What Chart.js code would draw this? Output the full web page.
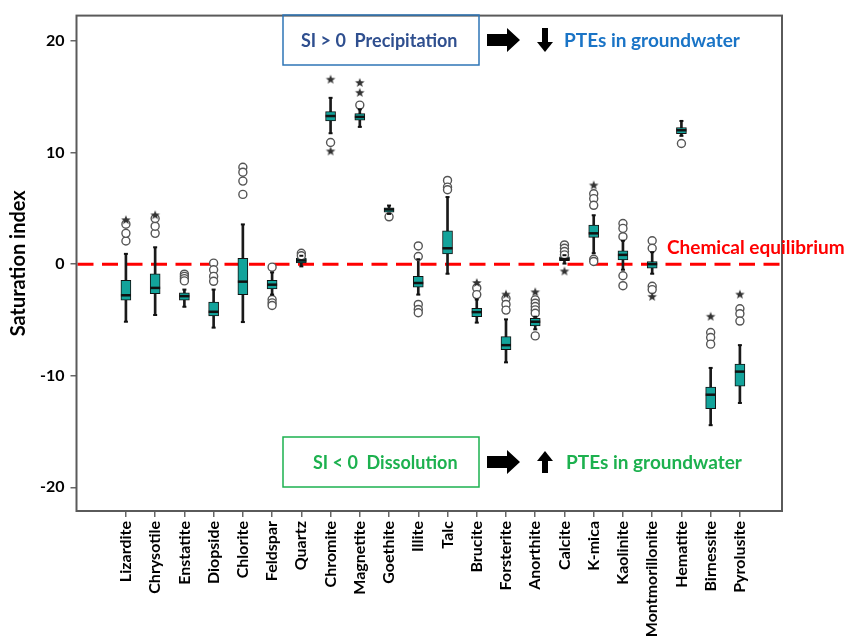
<!DOCTYPE html>
<html>
<head>
<meta charset="utf-8">
<script src="https://cdn.jsdelivr.net/npm/chart.js@4.4.1/dist/chart.umd.min.js"></script>
<style>
  body { margin: 0; background: #fff; }
</style>
</head>
<body>
<canvas id="siChart" width="846" height="638"></canvas>
<script>
// saturation index box plot

const minerals = ['Lizardite', 'Chrysotile', 'Enstatite', 'Diopside', 'Chlorite', 'Feldspar', 'Quartz',
  'Chromite', 'Magnetite', 'Goethite', 'Illite', 'Talc', 'Brucite', 'Forsterite', 'Anorthite', 'Calcite',
  'K-mica', 'Kaolinite', 'Montmorillonite', 'Hematite', 'Birnessite', 'Pyrolusite'];

const whiskerLow = [-5.16, -4.56, -3.82, -5.69, -5.19, -2.73, -0.2, 11.73, 12.3, 4.5, -2.73, -0.86, -5.24, -8.8, -5.84, 0.05, 0.98, -0.5, -0.86, 11.5, -14.43, -12.44];
const q1 = [-3.23, -2.64, -3.23, -4.65, -2.73, -2.22, 0.1, 12.83, 12.89, 4.65, -2.07, 0.92, -4.71, -7.67, -5.54, 0.3, 2.4, 0.38, -0.36, 11.7, -12.95, -10.93];
const median = [-2.79, -2.13, -2.87, -4.27, -1.57, -1.84, 0.33, 13.27, 13.19, 4.9, -1.69, 1.42, -4.3, -7.26, -5.16, 0.45, 2.76, 0.83, 0, 12.0, -11.7, -9.63];
const q3 = [-1.45, -0.86, -2.58, -3.41, 0.53, -1.45, 0.55, 13.66, 13.48, 5.05, -1.1, 2.99, -3.97, -6.49, -4.86, 0.65, 3.5, 1.19, 0.24, 12.24, -11.02, -8.95];
const whiskerHigh = [0.92, 1.51, -2.28, -2.28, 3.56, -0.74, 0.75, 14.9, 13.87, 5.25, 0.44, 6.01, -3.17, -4.95, -4.71, 0.8, 4.38, 2.1, 1.07, 12.83, -9.3, -7.26];

// outliers (open circles) and extremes (stars), one list per mineral
const circleOutliers = [
  [2.07, 2.76, 3.58], [2.76, 3.4, 4.09], [-0.9, -1.1, -1.3, -1.5], [0.09, -0.5, -1.1, -1.54],
  [8.68, 8.24, 7.44, 6.25], [-0.27, -3.17, -3.47, -3.7], [0.98, 0.75], [10.9], [14.25], [4.24],
  [1.63, 0.68, -3.61, -4.06, -4.36], [7.5, 6.9, 6.67], [-2.13, -2.73], [-3.08, -3.61, -4.12],
  [-3.2, -3.5, -3.8, -4.1, -4.4, -6.43], [1.72, 1.42, 1.13, 0.83], [6.31, 5.87, 5.27, 0.44, 0.24],
  [3.64, 3.2, 2.46, -1.04, -1.93], [2.1, 1.42, -1.98, -2.28], [10.81], [-6.13, -6.58, -7.17], [-4.0, -4.44, -5.1]
];
const starOutliers = [
  [3.94], [4.38], [], [], [], [], [], [16.53, 10.1], [16.24, 15.35], [], [], [], [-1.69], [-2.73],
  [-2.52], [-0.65], [7.05], [], [-2.93], [], [-4.71], [-2.73]
];

const yTicks = [20, 10, 0, -10, -20];
const equilibrium = 0;

const FONT = 'Lato, "Open Sans", sans-serif';

function makeStar(r) {
  const c = document.createElement('canvas');
  c.width = c.height = r * 2 + 2;
  const g = c.getContext('2d');
  g.fillStyle = '#333';
  g.beginPath();
  for (let i = 0; i < 10; i++) {
    const a = -Math.PI / 2 + i * Math.PI / 5;
    const rr = i % 2 ? r * 0.42 : r;
    g.lineTo(r + 1 + rr * Math.cos(a), r + 1 + rr * Math.sin(a));
  }
  g.closePath();
  g.fill();
  return c;
}

const flatten = (lists) => lists.flatMap((vals, i) => vals.map(v => ({ x: i, y: v })));

function fatArrow(g, x, y) {
  g.beginPath();
  g.moveTo(x, y - 6);
  g.lineTo(x + 20, y - 6);
  g.lineTo(x + 20, y - 12);
  g.lineTo(x + 33, y);
  g.lineTo(x + 20, y + 12);
  g.lineTo(x + 20, y + 6);
  g.lineTo(x, y + 6);
  g.closePath();
  g.fill();
}

function vArrow(g, x, yTail, yHead) {
  const dir = yHead > yTail ? 1 : -1;
  const neck = yHead - dir * 10;
  g.fillRect(x - 3, Math.min(yTail, neck), 6, Math.abs(neck - yTail));
  g.beginPath();
  g.moveTo(x - 8, neck);
  g.lineTo(x + 8, neck);
  g.lineTo(x, yHead);
  g.closePath();
  g.fill();
}

const boxExtras = {
  id: 'boxExtras',
  beforeDatasetsDraw(chart) {
    const { ctx: g, chartArea: a, scales: { y } } = chart;
    const py = y.getPixelForValue(equilibrium);
    g.save();
    g.strokeStyle = '#ff0000';
    g.lineWidth = 3;
    g.setLineDash([16, 8.5]);
    g.beginPath();
    g.moveTo(a.left + 1, py);
    g.lineTo(a.right, py);
    g.stroke();
    g.restore();
  },
  afterDatasetsDraw(chart) {
    const { ctx: g, scales: { x, y } } = chart;
    g.save();
    g.strokeStyle = '#111';
    minerals.forEach((m, i) => {
      const px = x.getPixelForValue(i);
      g.lineWidth = 2.5;
      g.beginPath();
      g.moveTo(px - 5, y.getPixelForValue(median[i]));
      g.lineTo(px + 5, y.getPixelForValue(median[i]));
      g.stroke();
      g.lineWidth = 2;
      [whiskerLow[i], whiskerHigh[i]].forEach(v => {
        g.beginPath();
        g.moveTo(px - 2, y.getPixelForValue(v));
        g.lineTo(px + 2, y.getPixelForValue(v));
        g.stroke();
      });
    });
    g.restore();
  },
  afterDraw(chart) {
    const { ctx: g, chartArea: a, scales: { y } } = chart;
    g.save();
    // frame
    g.strokeStyle = '#5a5a5a';
    g.lineWidth = 2;
    g.strokeRect(a.left, a.top, a.right - a.left, a.bottom - a.top);

    g.textBaseline = 'middle';
    g.font = 'bold 19px ' + FONT;
    g.fillStyle = '#ff0000';
    g.fillText('Chemical equilibrium', 667, y.getPixelForValue(equilibrium) - 16);

    // precipitation note
    g.lineWidth = 1.5;
    g.strokeStyle = '#2e75b6';
    g.strokeRect(283, 15, 196, 50);
    g.fillStyle = '#2f4f8f';
    g.font = 'bold 18px ' + FONT;
    g.fillText('SI > 0  Precipitation', 301, 41);
    g.fillStyle = '#000';
    fatArrow(g, 487, 40);
    vArrow(g, 545, 28, 52);
    g.fillStyle = '#1a74c6';
    g.font = 'bold 19px ' + FONT;
    g.fillText('PTEs in groundwater', 564, 41);

    // dissolution note
    g.strokeStyle = '#1db14f';
    g.strokeRect(283, 437, 196, 50);
    g.fillStyle = '#1db14f';
    g.font = 'bold 18px ' + FONT;
    g.fillText('SI < 0  Dissolution', 313, 463);
    g.fillStyle = '#000';
    fatArrow(g, 487, 462);
    vArrow(g, 545, 473, 451);
    g.fillStyle = '#1db14f';
    g.font = 'bold 19px ' + FONT;
    g.fillText('PTEs in groundwater', 566, 463);
    g.restore();
  }
};

const ctx = document.getElementById('siChart').getContext('2d');

new Chart(ctx, {
  type: 'bar',
  data: {
    datasets: [
      {
        label: 'whiskers',
        data: minerals.map((m, i) => ({ x: i, y: [whiskerLow[i], whiskerHigh[i]] })),
        backgroundColor: '#1a1a1a',
        barThickness: 2,
        grouped: false,
        order: 3
      },
      {
        label: 'boxes',
        data: minerals.map((m, i) => ({ x: i, y: [q1[i], q3[i]] })),
        backgroundColor: '#13a39b',
        borderColor: '#111',
        borderWidth: 1,
        borderSkipped: false,
        barThickness: 10,
        grouped: false,
        order: 2
      },
      {
        type: 'scatter',
        label: 'outliers',
        data: flatten(circleOutliers),
        pointStyle: 'circle',
        pointRadius: 4,
        borderWidth: 1.4,
        borderColor: '#555',
        backgroundColor: '#fff',
        order: 1
      },
      {
        type: 'scatter',
        label: 'extremes',
        data: flatten(starOutliers),
        pointStyle: makeStar(5),
        order: 0
      }
    ]
  },
  options: {
    responsive: false,
    animation: false,
    layout: { padding: { top: 11, right: 64, left: 0, bottom: 0 } },
    plugins: { legend: { display: false }, tooltip: { enabled: false } },
    scales: {
      x: {
        type: 'linear',
        offset: false,
        min: -1.69,
        max: 22.44,
        afterBuildTicks: s => { s.ticks = minerals.map((m, i) => ({ value: i })); },
        afterFit: s => { s.height = 127; },
        grid: { offset: false, drawOnChartArea: false, tickLength: 6, color: '#666', lineWidth: 1.5 },
        border: { display: false },
        ticks: {
          autoSkip: false,
          minRotation: 90,
          maxRotation: 90,
          padding: 4,
          color: '#000',
          font: { family: FONT, size: 16, weight: 'bold' },
          callback: v => minerals[v]
        }
      },
      y: {
        min: -22.12,
        max: 22.27,
        afterBuildTicks: s => { s.ticks = yTicks.map(v => ({ value: v })); },
        afterFit: s => { s.width = 76.5; },
        grid: { drawOnChartArea: false, tickLength: 6, color: '#666', lineWidth: 1.5 },
        border: { display: false },
        ticks: {
          padding: 6,
          color: '#000',
          font: { family: FONT, size: 16, weight: 'bold' }
        },
        title: {
          display: true,
          text: 'Saturation index',
          color: '#000',
          padding: { top: 7, bottom: 0 },
          font: { family: FONT, size: 20, weight: 'bold' }
        }
      }
    }
  },
  plugins: [boxExtras]
});
</script>
</body>
</html>
